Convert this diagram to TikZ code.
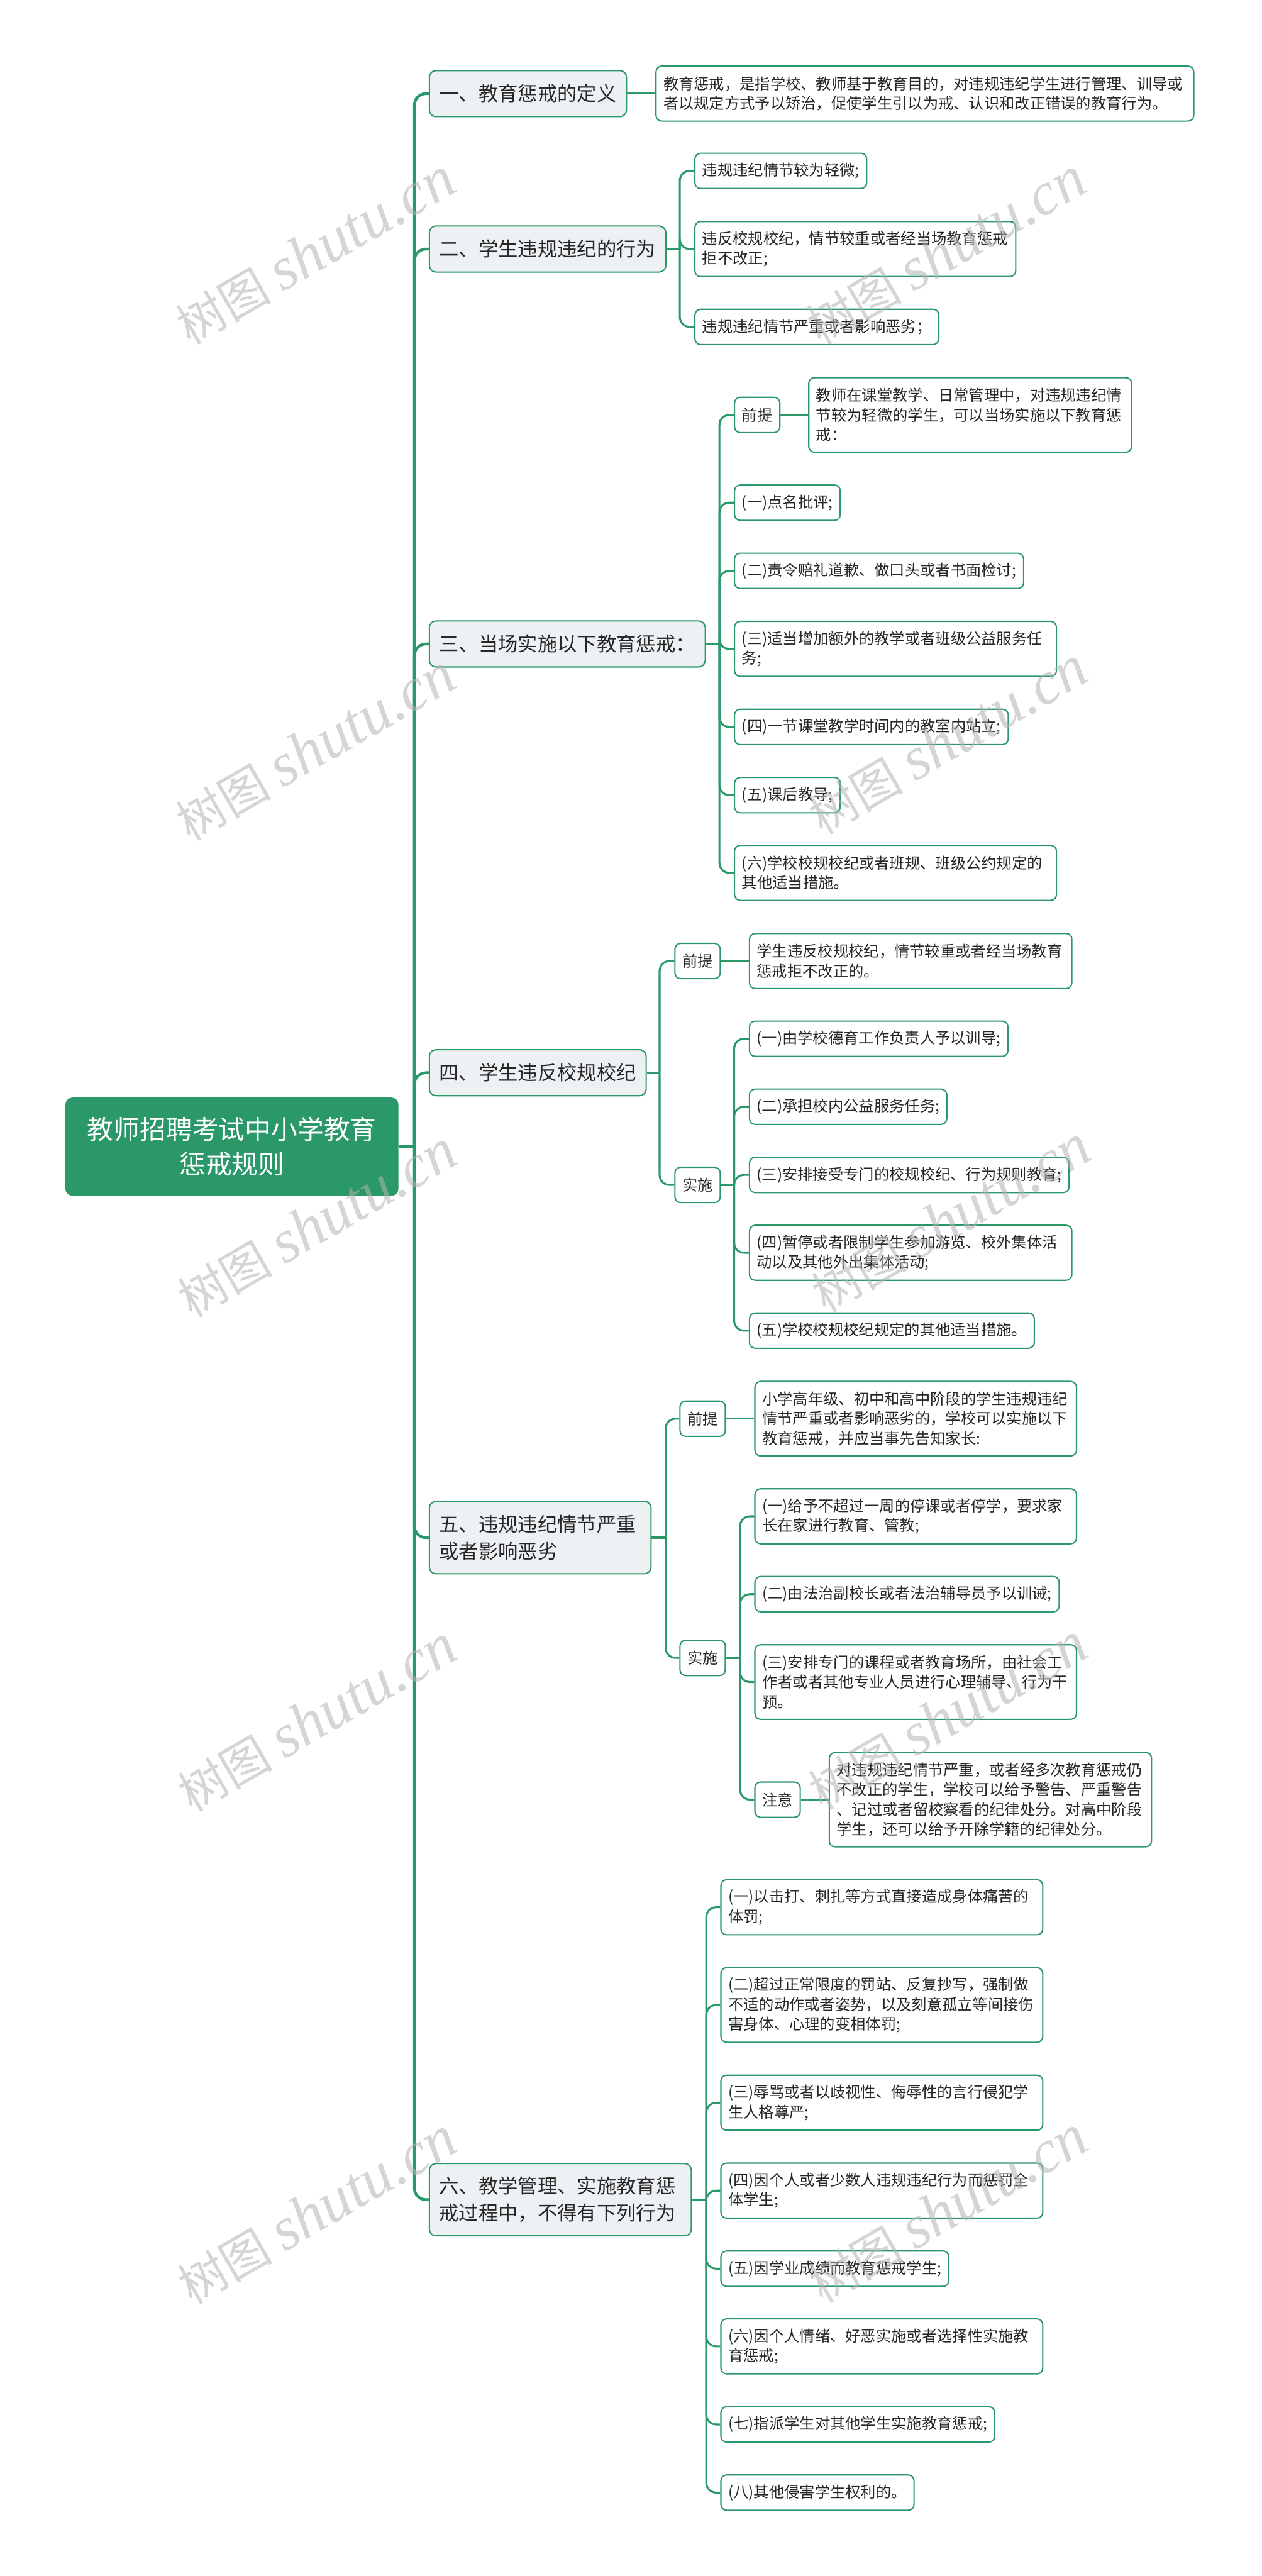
\documentclass[tikz,border=0pt]{standalone}
\usepackage{fontspec}
\setmainfont{Noto Sans CJK SC}
\newfontfamily\cjk{Noto Sans CJK SC}
\newfontfamily\wmlatin{Liberation Serif}
\definecolor{mg}{HTML}{2A9868}
\definecolor{lonefill}{HTML}{EEF1F4}
\definecolor{tx}{HTML}{262626}
\tikzset{
  base/.style={draw=mg, line width=0.8pt, text=tx, anchor=west, inner ysep=1pt},
  rootbox/.style={base, rounded corners=4pt, fill=mg, text=white, font=\fontsize{16}{21}\selectfont, align=center, inner xsep=13pt, minimum height=59pt},
  lone/.style={base, rounded corners=4pt, fill=lonefill, font=\fontsize{12}{16.3}\selectfont, align=left, inner xsep=6pt, minimum height=28pt},
  ltwo/.style={base, rounded corners=3.5pt, fill=white, font=\fontsize{9.3}{12}\selectfont, align=left, inner xsep=4.5pt, minimum height=21.5pt},
  two/.style={minimum height=33.5pt},
  three/.style={minimum height=45.4pt},
  four/.style={minimum height=57.4pt},
  cone/.style={draw=mg, line width=1.7pt, rounded corners=7pt},
  ctwo/.style={draw=mg, line width=1.2pt, rounded corners=6pt},
  wm/.style={rotate=30, text=black!30, text opacity=0.55, inner sep=0pt}
}
\newcommand{\wmtext}{{\cjk\fontsize{29}{30}\selectfont 树图}\hspace{7pt}{\wmlatin\itshape\fontsize{37}{40}\selectfont shutu.cn}}
\begin{document}
\begin{tikzpicture}[x=1pt,y=-1pt]
\useasboundingbox (0,0) rectangle (768,1568.1);

% root
\node[rootbox] (root) at (39.8,698) {教师招聘考试中小学教育\\惩戒规则};

% level 1
\node[lone] (n1) at (261,57) {一、教育惩戒的定义};
\node[lone] (n2) at (261,151.6) {二、学生违规违纪的行为};
\node[lone] (n3) at (261,392) {三、当场实施以下教育惩戒：};
\node[lone] (n4) at (261,653) {四、学生违反校规校纪};
\node[lone, text width=123pt, minimum height=44pt] (n5) at (261,936) {五、违规违纪情节严重\\或者影响恶劣};
\node[lone, text width=147.5pt, minimum height=44pt] (n6) at (261,1339) {六、教学管理、实施教育惩\\戒过程中，不得有下列行为};

% branch 1
\node[ltwo, two, text width=318.4pt] (c1a) at (399,57) {教育惩戒，是指学校、教师基于教育目的，对违规违纪学生进行管理、训导或\\者以规定方式予以矫治，促使学生引以为戒、认识和改正错误的教育行为。};

% branch 2
\node[ltwo] (c2a) at (422.7,104) {违规违纪情节较为轻微;};
\node[ltwo, two, text width=186.3pt] (c2b) at (422.7,151.6) {违反校规校纪，情节较重或者经当场教育惩戒\\拒不改正;};
\node[ltwo] (c2c) at (422.7,199) {违规违纪情节严重或者影响恶劣；};

% branch 3
\node[ltwo] (c3p) at (446.8,252.6) {前提};
\node[ltwo, three, text width=187.5pt] (c3pc) at (492,252.6) {教师在课堂教学、日常管理中，对违规违纪情\\节较为轻微的学生，可以当场实施以下教育惩\\戒：};
\node[ltwo] (c31) at (446.8,306) {(一)点名批评;};
\node[ltwo] (c32) at (446.8,347.5) {(二)责令赔礼道歉、做口头或者书面检讨;};
\node[ltwo, two, text width=187pt] (c33) at (446.8,395) {(三)适当增加额外的教学或者班级公益服务任\\务;};
\node[ltwo] (c34) at (446.8,442.5) {(四)一节课堂教学时间内的教室内站立;};
\node[ltwo] (c35) at (446.8,484) {(五)课后教导;};
\node[ltwo, two, text width=187pt] (c36) at (446.8,531.3) {(六)学校校规校纪或者班规、班级公约规定的\\其他适当措施。};

% branch 4
\node[ltwo] (c4p) at (410.5,585) {前提};
\node[ltwo, two, text width=187.3pt] (c4pc) at (455.9,585) {学生违反校规校纪，情节较重或者经当场教育\\惩戒拒不改正的。};
\node[ltwo] (c4s) at (410.5,721.3) {实施};
\node[ltwo] (c41) at (455.9,632.3) {(一)由学校德育工作负责人予以训导;};
\node[ltwo] (c42) at (455.9,673.7) {(二)承担校内公益服务任务;};
\node[ltwo] (c43) at (455.9,715.2) {(三)安排接受专门的校规校纪、行为规则教育;};
\node[ltwo, two, text width=187.3pt] (c44) at (455.9,762.6) {(四)暂停或者限制学生参加游览、校外集体活\\动以及其他外出集体活动;};
\node[ltwo] (c45) at (455.9,810) {(五)学校校规校纪规定的其他适当措施。};

% branch 5
\node[ltwo] (c5p) at (413.6,863.6) {前提};
\node[ltwo, three, text width=186.8pt] (c5pc) at (459.2,863.6) {小学高年级、初中和高中阶段的学生违规违纪\\情节严重或者影响恶劣的，学校可以实施以下\\教育惩戒，并应当事先告知家长:};
\node[ltwo] (c5s) at (413.6,1009.2) {实施};
\node[ltwo, two, text width=186.8pt] (c51) at (459.2,923) {(一)给予不超过一周的停课或者停学，要求家\\长在家进行教育、管教;};
\node[ltwo] (c52) at (459.2,970.4) {(二)由法治副校长或者法治辅导员予以训诫;};
\node[ltwo, three, text width=186.8pt] (c53) at (459.2,1023.9) {(三)安排专门的课程或者教育场所，由社会工\\作者或者其他专业人员进行心理辅导、行为干\\预。};
\node[ltwo] (c5n) at (459.2,1095.5) {注意};
\node[ltwo, four, text width=187.2pt] (c5nc) at (504.5,1095.5) {对违规违纪情节严重，或者经多次教育惩戒仍\\不改正的学生，学校可以给予警告、严重警告\\、记过或者留校察看的纪律处分。对高中阶段\\学生，还可以给予开除学籍的纪律处分。};

% branch 6
\node[ltwo, two, text width=187pt] (c61) at (438.5,1161) {(一)以击打、刺扎等方式直接造成身体痛苦的\\体罚;};
\node[ltwo, three, text width=187pt] (c62) at (438.5,1220.5) {(二)超过正常限度的罚站、反复抄写，强制做\\不适的动作或者姿势，以及刻意孤立等间接伤\\害身体、心理的变相体罚;};
\node[ltwo, two, text width=187pt] (c63) at (438.5,1280) {(三)辱骂或者以歧视性、侮辱性的言行侵犯学\\生人格尊严;};
\node[ltwo, two, text width=187pt] (c64) at (438.5,1333.5) {(四)因个人或者少数人违规违纪行为而惩罚全\\体学生;};
\node[ltwo] (c65) at (438.5,1381) {(五)因学业成绩而教育惩戒学生;};
\node[ltwo, two, text width=187pt] (c66) at (438.5,1428.3) {(六)因个人情绪、好恶实施或者选择性实施教\\育惩戒;};
\node[ltwo] (c67) at (438.5,1475.8) {(七)指派学生对其他学生实施教育惩戒;};
\node[ltwo] (c68) at (438.5,1517.3) {(八)其他侵害学生权利的。};

% junction coordinates
\coordinate (t) at (252.3,698);
\coordinate (b2) at (413.9,151.6);
\coordinate (b3) at (438,392);
\coordinate (b4) at (401.6,653);
\coordinate (b4s) at (447,721.3);
\coordinate (b5) at (405.3,936);
\coordinate (b5s) at (450.6,1009.2);
\coordinate (b6) at (430,1339);

% trunk
\draw[cone] (root.east) -- (t);
\foreach \n in {n1,n2,n3,n4,n5,n6} \draw[cone] (t) |- (\n.west);

% level 1 -> level 2
\draw[ctwo] (n1.east) -- (c1a.west);
\draw[ctwo] (n2.east) -- (b2);
\foreach \n in {c2a,c2b,c2c} \draw[ctwo] (b2) |- (\n.west);
\draw[ctwo] (n3.east) -- (b3);
\foreach \n in {c3p,c31,c32,c33,c34,c35,c36} \draw[ctwo] (b3) |- (\n.west);
\draw[ctwo] (c3p.east) -- (c3pc.west);
\draw[ctwo] (n4.east) -- (b4);
\foreach \n in {c4p,c4s} \draw[ctwo] (b4) |- (\n.west);
\draw[ctwo] (c4p.east) -- (c4pc.west);
\draw[ctwo] (c4s.east) -- (b4s);
\foreach \n in {c41,c42,c43,c44,c45} \draw[ctwo] (b4s) |- (\n.west);
\draw[ctwo] (n5.east) -- (b5);
\foreach \n in {c5p,c5s} \draw[ctwo] (b5) |- (\n.west);
\draw[ctwo] (c5p.east) -- (c5pc.west);
\draw[ctwo] (c5s.east) -- (b5s);
\foreach \n in {c51,c52,c53,c5n} \draw[ctwo] (b5s) |- (\n.west);
\draw[ctwo] (c5n.east) -- (c5nc.west);
\draw[ctwo] (n6.east) -- (b6);
\foreach \n in {c61,c62,c63,c64,c65,c66,c67,c68} \draw[ctwo] (b6) |- (\n.west);

% watermarks
\node[wm] (w1) at (192,153) {\wmtext};
\node[wm] (w2) at (576,153) {\wmtext};
\node[wm] (w3) at (192,455) {\wmtext};
\node[wm] (w4) at (577,451) {\wmtext};
\node[wm] (w5) at (193,745) {\wmtext};
\node[wm] (w6) at (579,742) {\wmtext};
\node[wm] (w7) at (193,1046) {\wmtext};
\node[wm] (w8) at (577,1045) {\wmtext};
\node[wm] (w9) at (193,1346) {\wmtext};
\node[wm] (w10) at (577,1345) {\wmtext};
\end{tikzpicture}
\end{document}
